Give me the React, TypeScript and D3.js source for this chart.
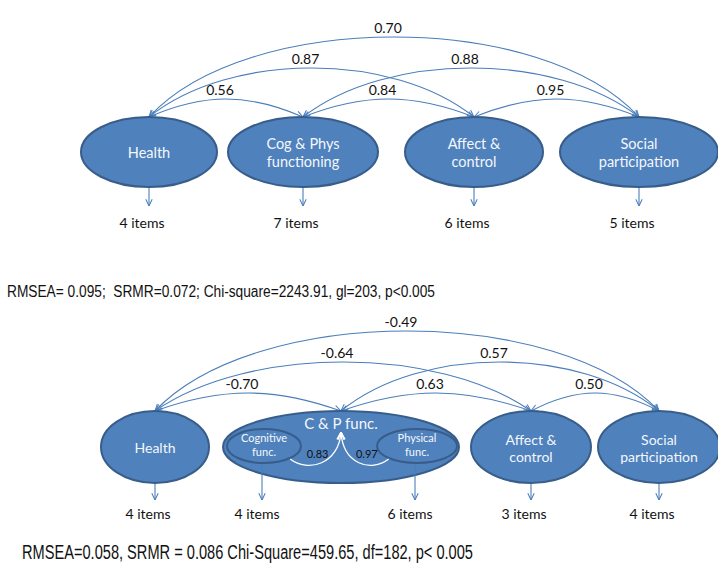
import React from "react";
import * as d3 from "d3";

// ---------- data ----------
const topFactors = ["Health", "Cog & Phys\nfunctioning", "Affect &\ncontrol", "Social\nparticipation"];
const topItems = [4, 7, 6, 5];
const corrPairs: [number, number][] = [[0, 1], [1, 2], [2, 3], [0, 2], [1, 3], [0, 3]];
const topCorr = [0.56, 0.84, 0.95, 0.87, 0.88, 0.70];
const topFit = "RMSEA= 0.095;\u00A0\u00A0SRMR=0.072; Chi-square=2243.91, gl=203, p<0.005";

const bottomFactors = ["Health", "C & P func.", "Affect &\ncontrol", "Social\nparticipation"];
const bottomCorr = [-0.70, 0.63, 0.50, -0.64, 0.57, -0.49];
const subFactors = ["Cognitive\nfunc.", "Physical\nfunc."];
const subLoadings = [0.83, 0.97];
const bottomItems = [4, null, 3, 4];
const subItems = [4, 6];
const bottomFit = "RMSEA=0.058, SRMR = 0.086 Chi-Square=459.65, df=182, p< 0.005";

// ---------- layout ----------
const W = 718, H = 568;
const TOP = { cx: [149, 303, 474, 639], rx: [68, 75, 69, 79], cy: 152, ry: 35, tip: 206, textY: 222, lh: 18 };
const BOT = { cx: [155, 341, 531, 659], rx: [54, 118, 60, 61], cy: 447, ry: 36, tip: 500, textY: 513, lh: 17 };
const SUB = { cx: [264, 417], rx: [37, 40], cy: 446, ry: 17 };
const DEPTH = [18, 49, 80];
const KFAC = [0.36, 0.25, 0.2];

const LINE = "#4A7EBB";
const FILL = "#4F81BD";
const EDGE = "#385D8A";
const FONT = "Lato, 'Open Sans', sans-serif";

const fmt = (v: number) => v.toFixed(2);

function arcPath(x1: number, x2: number, y0: number, depth: number, k: number) {
  const w = x2 - x1;
  const peak = y0 - depth;
  const yc = (4 * peak - y0) / 3;
  const p = d3.path();
  p.moveTo(x1, y0);
  p.bezierCurveTo(x1 + k * w, yc, x2 - k * w, yc, x2, y0);
  return p.toString();
}

function MultiText({ x, y, text, lh, size, fill }: { x: number; y: number; text: string; lh: number; size: number; fill: string }) {
  const lines = text.split("\n");
  const y0 = y - ((lines.length - 1) * lh) / 2;
  return (
    <text x={x} y={y0} textAnchor="middle" dominantBaseline="central" fontFamily={FONT} fontSize={size} fill={fill}>
      {lines.map((l, i) => (
        <tspan key={i} x={x} y={y0 + i * lh}>{l}</tspan>
      ))}
    </text>
  );
}

function Diagram({ L, factors, corr, items }: any) {
  const y0 = L.cy - L.ry;
  return (
    <g>
      {corrPairs.map(([a, b], i) => {
        const level = b - a - 1;
        const x1 = L.cx[a], x2 = L.cx[b];
        const d = arcPath(x1, x2, y0, DEPTH[level], KFAC[level]);
        return (
          <g key={"arc" + i}>
            <path d={d} fill="none" stroke={LINE} strokeWidth={1.1} markerStart="url(#arr)" markerEnd="url(#arr)" />
            <text x={(x1 + x2) / 2 - 6} y={y0 - DEPTH[level] - 10} textAnchor="middle" dominantBaseline="central" fontFamily={FONT} fontSize={14} fill="#111">
              {fmt(corr[i])}
            </text>
          </g>
        );
      })}
      {factors.map((f: string, i: number) => (
        <g key={"f" + i}>
          <ellipse cx={L.cx[i]} cy={L.cy} rx={L.rx[i]} ry={L.ry} fill={FILL} stroke={EDGE} strokeWidth={2} />
          {items[i] != null && (
            <g>
              <line x1={L.cx[i]} y1={L.cy + L.ry + 1} x2={L.cx[i]} y2={L.tip} stroke={LINE} strokeWidth={1.1} markerEnd="url(#arr)" />
              <text x={L.cx[i] - 7} y={L.textY} textAnchor="middle" dominantBaseline="central" fontFamily={FONT} fontSize={14} fill="#111">
                {items[i] + " items"}
              </text>
            </g>
          )}
        </g>
      ))}
    </g>
  );
}

export default function App() {
  const topLabels = (
    <g>
      {topFactors.map((f, i) => (
        <MultiText key={i} x={TOP.cx[i]} y={TOP.cy} text={f} lh={TOP.lh} size={14.5} fill="#F4F7FB" />
      ))}
    </g>
  );
  const bottomLabels = (
    <g>
      {bottomFactors.map((f, i) =>
        i === 1 ? (
          <MultiText key={i} x={BOT.cx[i]} y={BOT.cy - 24} text={f} lh={BOT.lh} size={15} fill="#F4F7FB" />
        ) : (
          <MultiText key={i} x={BOT.cx[i]} y={BOT.cy} text={f} lh={BOT.lh} size={14} fill="#F4F7FB" />
        )
      )}
    </g>
  );
  const apex = { x: BOT.cx[1], y: BOT.cy - 15 };
  const ang = Math.PI / 4;
  return (
    <svg width={W} height={H} viewBox={`0 0 ${W} ${H}`} style={{ position: "absolute", left: 0, top: 0, background: "#fff" }}>
      <defs>
        <marker id="arr" viewBox="0 0 10 10" refX={9.5} refY={5} markerWidth={8} markerHeight={8} markerUnits="userSpaceOnUse" orient="auto-start-reverse">
          <path d="M1,1 L9.5,5 L1,9" fill="none" stroke={LINE} strokeWidth={1.3} />
        </marker>
        <marker id="warr" viewBox="0 0 10 10" refX={9.5} refY={5} markerWidth={9} markerHeight={9} markerUnits="userSpaceOnUse" orient="auto">
          <path d="M1,1 L9.5,5 L1,9" fill="none" stroke="#fff" strokeWidth={1.4} />
        </marker>
      </defs>

      {/* top model */}
      <Diagram L={TOP} factors={topFactors} corr={topCorr} items={topItems} />
      {topLabels}

      <text x={7} y={297} fontSize={16} fill="#111" fontFamily="'Liberation Sans', Arial, sans-serif" textLength={428} lengthAdjust="spacingAndGlyphs">
        {topFit}
      </text>

      {/* bottom model */}
      <Diagram L={BOT} factors={bottomFactors} corr={bottomCorr} items={bottomItems} />
      {subFactors.map((s, i) => {
        const cx = SUB.cx[i];
        const dir = i === 0 ? 1 : -1;
        const sx = cx + dir * SUB.rx[i] * Math.cos(ang);
        const sy = SUB.cy + SUB.ry * Math.sin(ang) + 1;
        const p = d3.path();
        p.moveTo(sx, sy);
        p.bezierCurveTo(sx + dir * 18, sy + 14, apex.x - dir * 2, apex.y + 32, apex.x, apex.y);
        return (
          <g key={"s" + i}>
            <ellipse cx={cx} cy={SUB.cy} rx={SUB.rx[i]} ry={SUB.ry} fill={FILL} stroke={EDGE} strokeWidth={2} />
            <MultiText x={cx} y={SUB.cy - 2} text={s} lh={14} size={11} fill="#F4F7FB" />
            <path d={p.toString()} fill="none" stroke="#fff" strokeWidth={1.3} markerEnd="url(#warr)" />
            <text x={(sx + apex.x) / 2 + 2} y={sy - 6} textAnchor="middle" dominantBaseline="central" fontFamily={FONT} fontSize={11} fill="#111">
              {fmt(subLoadings[i])}
            </text>
            <line x1={cx - 2} y1={SUB.cy + SUB.ry + 1} x2={cx - 2} y2={BOT.tip} stroke={LINE} strokeWidth={1.1} markerEnd="url(#arr)" />
            <text x={cx - 7} y={BOT.textY} textAnchor="middle" dominantBaseline="central" fontFamily={FONT} fontSize={14} fill="#111">
              {subItems[i] + " items"}
            </text>
          </g>
        );
      })}
      {bottomLabels}

      <text x={22} y={559} fontSize={20} fill="#111" fontFamily="'Liberation Sans Narrow', 'Liberation Sans', Arial, sans-serif" textLength={451} lengthAdjust="spacingAndGlyphs">
        {bottomFit}
      </text>
    </svg>
  );
}
